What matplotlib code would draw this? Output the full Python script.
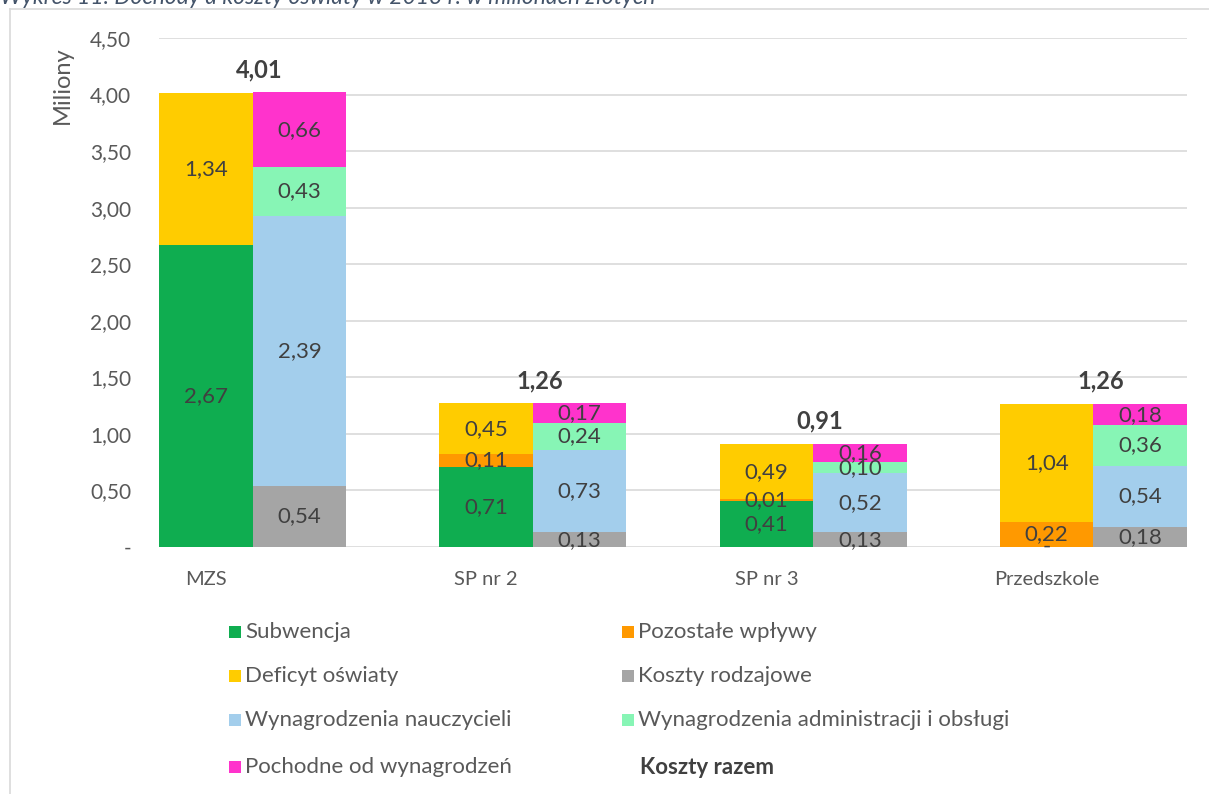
import numpy as np
import matplotlib
matplotlib.use('Agg')
import matplotlib.pyplot as plt
from matplotlib.patches import Rectangle
from matplotlib.lines import Line2D

plt.rcParams['font.family'] = ['Lato', 'DejaVu Sans']

# data (millions PLN)
categories = ['MZS', 'SP nr 2', 'SP nr 3', 'Przedszkole']

# revenue side (left bar)
subwencja = [2.67, 0.71, 0.41, 0.0]
pozostale = [None, 0.11, 0.01, 0.22]
deficyt = [1.34, 0.45, 0.49, 1.04]

# cost side (right bar)
koszty_rodzajowe = [0.54, 0.13, 0.13, 0.18]
wyn_nauczycieli = [2.39, 0.73, 0.52, 0.54]
wyn_admin = [0.43, 0.24, 0.10, 0.36]
pochodne = [0.66, 0.17, 0.16, 0.18]

koszty_razem = [4.01, 1.26, 0.91, 1.26]

left_series = [
    ('Subwencja', subwencja, '#0FAD50'),
    ('Pozostałe wpływy', pozostale, '#FF9900'),
    ('Deficyt oświaty', deficyt, '#FFCC00'),
]
right_series = [
    ('Koszty rodzajowe', koszty_rodzajowe, '#A5A5A5'),
    ('Wynagrodzenia nauczycieli', wyn_nauczycieli, '#A3CEEC'),
    ('Wynagrodzenia administracji i obsługi', wyn_admin, '#87F5B5'),
    ('Pochodne od wynagrodzeń', pochodne, '#FF33CC'),
]


def fmt(v):
    if v == 0:
        return '-'
    return f'{v:.2f}'.replace('.', ',')


W, H = 1209, 794
fig = plt.figure(figsize=(W / 100, H / 100), dpi=100)
ax = fig.add_axes([159 / W, 1 - 547 / H, 1028 / W, 509 / H])

x = np.arange(len(categories))
bw = 0.334
lab_col = '#404040'


def draw_stack(series, xpos):
    bottom = np.zeros(len(categories))
    for name, vals, col in series:
        v = np.array([0.0 if a is None else a for a in vals])
        ax.bar(xpos, v, bw, bottom=bottom, color=col, linewidth=0, zorder=3)
        for i, a in enumerate(vals):
            if a is None:
                continue
            ax.text(xpos[i], bottom[i] + a / 2, fmt(a), ha='center', va='center',
                    fontsize=16, color=lab_col, zorder=4)
        bottom = bottom + v


draw_stack(left_series, x - bw / 2)
draw_stack(right_series, x + bw / 2)

# totals above bars
for i, t in enumerate(koszty_razem):
    ax.annotate(fmt(t), (x[i] + 0.025, t), xytext=(0, 17), textcoords='offset points',
                ha='center', va='center', fontsize=17, fontweight='bold', color=lab_col)

ax.set_xlim(-bw, len(categories) - 1 + bw)
ax.set_ylim(0, 4.5)
yt = np.arange(0, 4.51, 0.5)
ax.set_yticks(yt)
ax.set_yticklabels(['-' if v == 0 else f'{v:.2f}'.replace('.', ',') for v in yt])
ax.set_xticks(x - bw / 2)
ax.set_xticklabels(categories)
ax.tick_params(axis='y', length=0, labelsize=15, labelcolor='#595959', pad=20)
ax.tick_params(axis='x', length=0, labelsize=14.5, labelcolor='#595959', pad=17)
ax.grid(axis='y', color='#D9D9D9', linewidth=1.2, zorder=0)
for s in ax.spines.values():
    s.set_visible(False)

fig.text(62 / W, 1 - 85 / H, 'Miliony', rotation=90, ha='center', va='center',
         fontsize=17, color='#595959')

# chart frame and cut-off caption
fig.add_artist(Line2D([10 / W, 10 / W], [0, 1 - 9 / H], color='#D9D9D9', lw=1.2))
fig.add_artist(Line2D([10 / W, 1], [1 - 9 / H, 1 - 9 / H], color='#D9D9D9', lw=1.2))
fig.text(0, 1 - 4 / H, 'Wykres 11. Dochody a koszty oświaty w 2013 r. w milionach złotych',
         ha='left', va='baseline', fontsize=16.5, style='italic', color='#44546A')

# legend, drawn by hand in two columns
legend_items = [left_series[0], left_series[1], left_series[2], right_series[0],
                right_series[1], right_series[2], right_series[3], ('Koszty razem', None, None)]
col_x = [229, 622]
row_y = [632, 676, 720, 767]
for k, (name, _, col) in enumerate(legend_items):
    cx = col_x[k % 2]
    cy = row_y[k // 2]
    if col is not None:
        fig.add_artist(Rectangle((cx / W, 1 - (cy + 6) / H), 12 / W, 12 / H,
                                 transform=fig.transFigure, color=col, lw=0))
        fig.text((cx + 16) / W, 1 - cy / H, name, ha='left', va='center',
                 fontsize=16, color='#595959')
    else:
        fig.text((cx + 18) / W, 1 - cy / H, name, ha='left', va='center',
                 fontsize=16, fontweight='bold', color='#404040')

fig.savefig('out.png', dpi=100)
